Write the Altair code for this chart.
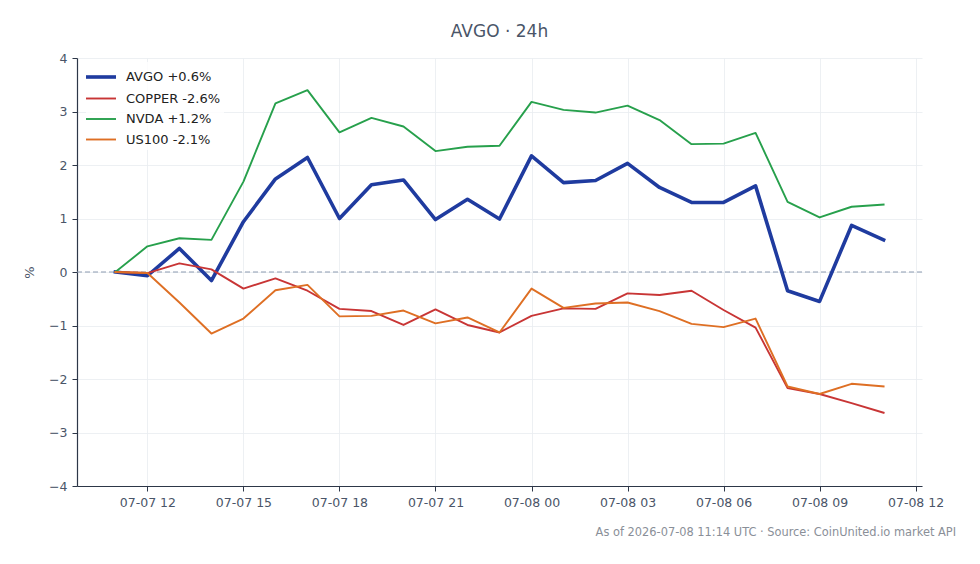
import altair as alt
import pandas as pd

# Hourly samples, 07-07 11:00 UTC to 07-08 11:00 UTC
times = pd.date_range("2026-07-07 11:00", periods=25, freq="h")
time_strings = [t.strftime("%Y-%m-%dT%H:%M:%SZ") for t in times]

series_names = ["AVGO +0.6%", "COPPER -2.6%", "NVDA +1.2%", "US100 -2.1%"]
series_colors = ["#1f3b9f", "#c83535", "#27a04c", "#de6f24"]
series_widths = [3.6, 1.9, 1.9, 1.9]

avgo = [0.00, -0.07, 0.44, -0.16, 0.94, 1.74, 2.14, 1.00, 1.63, 1.72, 0.98, 1.36, 0.99,
        2.17, 1.67, 1.71, 2.03, 1.58, 1.30, 1.30, 1.61, -0.35, -0.55, 0.87, 0.60]
copper = [0.00, -0.02, 0.16, 0.05, -0.31, -0.12, -0.35, -0.69, -0.73, -0.99, -0.70, -0.99, -1.13,
          -0.82, -0.68, -0.69, -0.40, -0.43, -0.35, -0.71, -1.04, -2.17, -2.28, -2.45, -2.63]
nvda = [0.00, 0.48, 0.63, 0.60, 1.69, 3.15, 3.40, 2.61, 2.88, 2.72, 2.26, 2.34, 2.36,
        3.18, 3.03, 2.98, 3.11, 2.84, 2.39, 2.40, 2.60, 1.31, 1.02, 1.22, 1.26]
us100 = [0.00, -0.02, -0.57, -1.15, -0.87, -0.34, -0.24, -0.83, -0.82, -0.72, -0.96, -0.85, -1.13,
         -0.31, -0.67, -0.59, -0.57, -0.73, -0.97, -1.03, -0.87, -2.14, -2.28, -2.09, -2.14]

y_ticks = [-4, -3, -2, -1, 0, 1, 2, 3, 4]
x_tick_hours = [(7, 12), (7, 15), (7, 18), (7, 21), (8, 0), (8, 3), (8, 6), (8, 9), (8, 12)]

title_text = "AVGO · 24h"
footer_text = "As of 2026-07-08 11:14 UTC · Source: CoinUnited.io market API"

rows = []
for name, values in zip(series_names, [avgo, copper, nvda, us100]):
    for t, v in zip(time_strings, values):
        rows.append({"time": t, "pct": v, "series": name})
df = pd.DataFrame(rows)

FONT = "DejaVu Sans"
W, H = 845, 428

x_enc = alt.X(
    "time:T",
    scale=alt.Scale(
        type="utc",
        domain=[
            alt.DateTime(year=2026, month=7, date=7, hours=9, minutes=48, utc=True),
            alt.DateTime(year=2026, month=7, date=8, hours=12, minutes=12, utc=True),
        ],
    ),
    axis=alt.Axis(
        values=[alt.DateTime(year=2026, month=7, date=d, hours=h, utc=True) for d, h in x_tick_hours],
        labelExpr="utcFormat(datum.value, '%m-%d %H')",
        title=None,
        labelPadding=5,
    ),
)
y_enc = alt.Y(
    "pct:Q",
    scale=alt.Scale(domain=[-4, 4], nice=False),
    axis=alt.Axis(values=y_ticks, title="%", titlePadding=12, labelPadding=5),
)

zero_line = alt.Chart(pd.DataFrame({"pct": [0]})).mark_rule(
    color="#8d9bb2", strokeDash=[5, 3], strokeWidth=1.1
).encode(y=alt.Y("pct:Q"))

# Legend swatch: a horizontal stroke wider than the symbol box, so rows stay compact
lines = alt.Chart(df).mark_line(strokeJoin="round", strokeCap="square").encode(
    x=x_enc,
    y=y_enc,
    color=alt.Color(
        "series:N",
        scale=alt.Scale(domain=series_names, range=series_colors),
        legend=alt.Legend(
            title=None,
            orient="none",
            legendX=9,
            legendY=4,
            symbolType="M-1.5,0L1.5,0",
            symbolSize=400,
            labelFontSize=13,
            labelFont=FONT,
            labelColor="#222222",
            rowPadding=2.5,
            labelOffset=13,
            padding=3,
            fillColor="rgba(255,255,255,0.8)",
        ),
    ),
    strokeWidth=alt.StrokeWidth(
        "series:N",
        scale=alt.Scale(type="ordinal", domain=series_names, range=series_widths),
        legend=None,
    ),
    order=alt.Order("time:T"),
)

footer = alt.Chart(pd.DataFrame({"t": [footer_text]})).mark_text(
    align="right", baseline="middle", fontSize=11.4, font=FONT, color="#8a8f98"
).encode(text="t:N", x=alt.value(W + 34), y=alt.value(H + 47))

chart = (
    alt.layer(zero_line, lines, footer)
    .properties(
        width=W,
        height=H,
        autosize=alt.AutoSizeParams(type="none"),
        padding={"left": 77, "top": 58, "right": 58, "bottom": 78},
        title=alt.TitleParams(
            title_text, fontSize=17, font=FONT, fontWeight="normal",
            color="#4a5568", anchor="middle", offset=11,
        ),
        background="white",
    )
    .configure_view(stroke=None)
    .configure_axis(
        labelFont=FONT,
        titleFont=FONT,
        labelFontSize=12.5,
        titleFontSize=13,
        titleFontWeight="normal",
        labelColor="#4a5568",
        titleColor="#4a5568",
        domainColor="#2d3748",
        tickColor="#2d3748",
        tickSize=5,
        gridColor="#e9ecf0",
        gridWidth=0.8,
        domainWidth=1.2,
    )
)

chart.save("out.html", embed_options={"renderer": "svg", "actions": False})
